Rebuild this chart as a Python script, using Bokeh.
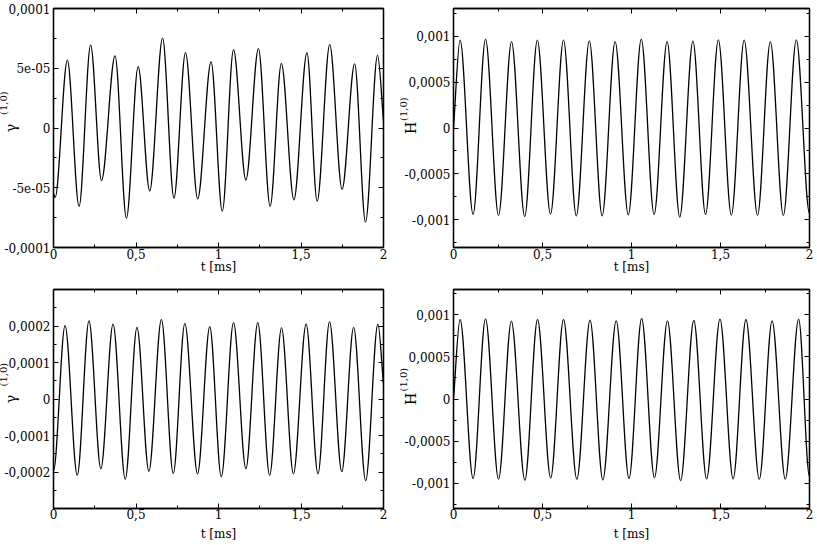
import numpy as np
from bokeh.plotting import figure
from bokeh.models import FixedTicker, CustomJSTickFormatter, LinearAxis, Range1d, Title
from bokeh.layouts import column, row
from bokeh.embed import file_html
from bokeh.resources import INLINE

FONT = "DejaVu Serif"

# ---------------- data ----------------
x_ticks = [0, 0.5, 1, 1.5, 2]
x_tick_labels = ["0", "0,5", "1", "1,5", "2"]
x_minor = [0.25, 0.75, 1.25, 1.75]

# top-left: gamma(1,0) -- turning points (t in ms)
tl_t = [0.0, 0.010, 0.084, 0.155, 0.225, 0.291, 0.373, 0.442, 0.513, 0.583,
        0.661, 0.730, 0.800, 0.874, 0.955, 1.023, 1.091, 1.166, 1.242, 1.313,
        1.381, 1.457, 1.536, 1.598, 1.674, 1.749, 1.825, 1.891, 1.964, 2.0]
tl_v = [-5.5e-5, -5.8e-5, 5.68e-5, -6.56e-5, 6.95e-5, -4.4e-5, 6.03e-5,
        -7.55e-5, 5.13e-5, -5.27e-5, 7.52e-5, -5.87e-5, 6.31e-5, -5.93e-5, 5.54e-5,
        -6.97e-5, 6.56e-5, -4.35e-5, 6.64e-5, -6.56e-5, 5.41e-5, -6.01e-5, 6.29e-5,
        -6.12e-5, 6.97e-5, -5.13e-5, 5.36e-5, -7.88e-5, 6.09e-5, 0.6e-5]
tl_free = [0, 29]
tl_yticks = [-1e-4, -5e-5, 0, 5e-5, 1e-4]
tl_ylabels = ["-0,0001", "-5e-05", "0", "5e-05", "0,0001"]
tl_yminor = [-7.5e-5, -2.5e-5, 2.5e-5, 7.5e-5]

# top-right: H(1,0)
tr_t = [0.0, 0.037, 0.110, 0.180, 0.253, 0.326, 0.400, 0.471, 0.545, 0.618, 0.690,
        0.763, 0.835, 0.908, 0.982, 1.055, 1.127, 1.200, 1.271, 1.345, 1.416,
        1.488, 1.561, 1.633, 1.708, 1.780, 1.853, 1.926, 2.0]
tr_v = [0.0, 0.955e-3, -0.940e-3, 0.966e-3, -0.951e-3, 0.940e-3, -0.962e-3, 0.955e-3,
        -0.937e-3, 0.955e-3, -0.955e-3, 0.948e-3, -0.955e-3, 0.940e-3, -0.944e-3,
        0.966e-3, -0.940e-3, 0.940e-3, -0.969e-3, 0.944e-3, -0.940e-3, 0.958e-3,
        -0.948e-3, 0.955e-3, -0.951e-3, 0.940e-3, -0.951e-3, 0.958e-3, -0.93e-3]
tr_free = [0]
h_yticks = [-1e-3, -5e-4, 0, 5e-4, 1e-3]
h_ylabels = ["-0,001", "-0,0005", "0", "0,0005", "0,001"]
h_yminor = [-1.25e-3, -7.5e-4, -2.5e-4, 2.5e-4, 7.5e-4, 1.25e-3]

# bottom-left: gamma(1,0)
bl_t = [0.0, 0.070, 0.144, 0.215, 0.287, 0.361, 0.435, 0.506, 0.578, 0.654, 0.726,
        0.796, 0.873, 0.947, 1.017, 1.091, 1.166, 1.238, 1.310, 1.382, 1.454,
        1.531, 1.603, 1.673, 1.747, 1.819, 1.892, 1.966, 2.0]
bl_v = [-1.97e-4, 2.01e-4, -2.09e-4, 2.14e-4, -1.91e-4, 2.05e-4, -2.20e-4, 1.96e-4,
        -1.98e-4, 2.18e-4, -2.04e-4, 2.07e-4, -2.05e-4, 1.98e-4, -2.13e-4, 2.09e-4,
        -1.91e-4, 2.09e-4, -2.09e-4, 1.95e-4, -2.05e-4, 2.05e-4, -2.05e-4, 2.12e-4,
        -1.99e-4, 1.96e-4, -2.24e-4, 2.05e-4, 0.4e-4]
bl_free = [28]
bl_yticks = [-2e-4, -1e-4, 0, 1e-4, 2e-4]
bl_ylabels = ["-0,0002", "-0,0001", "0", "0,0001", "0,0002"]
bl_yminor = [-2.5e-4, -1.5e-4, -0.5e-4, 0.5e-4, 1.5e-4, 2.5e-4]

# bottom-right: H(1,0)
br_t = [0.0, 0.037, 0.110, 0.180, 0.253, 0.325, 0.401, 0.472, 0.546, 0.618, 0.693,
        0.767, 0.839, 0.914, 0.986, 1.057, 1.129, 1.202, 1.276, 1.350, 1.422,
        1.497, 1.571, 1.643, 1.718, 1.790, 1.864, 1.939, 2.0]
br_v = [0.0, 0.944e-3, -0.944e-3, 0.952e-3, -0.952e-3, 0.924e-3, -0.964e-3, 0.944e-3,
        -0.936e-3, 0.944e-3, -0.952e-3, 0.936e-3, -0.960e-3, 0.928e-3, -0.944e-3,
        0.956e-3, -0.936e-3, 0.928e-3, -0.968e-3, 0.932e-3, -0.948e-3, 0.948e-3,
        -0.948e-3, 0.944e-3, -0.952e-3, 0.928e-3, -0.952e-3, 0.948e-3, -0.92e-3]
br_free = [0]


def fmt(tick_vals, tick_labs):
    return CustomJSTickFormatter(args=dict(tvals=tick_vals, tlabs=tick_labs), code="""
        for (let i = 0; i < tvals.length; i++) {
            if (Math.abs(tvals[i] - tick) < 1e-12) { return tlabs[i]; }
        }
        return "";
    """)


def segments(t, v, free):
    t = np.asarray(t, dtype=float)
    v = np.asarray(v, dtype=float)
    ta, tb, va, vb = t[:-1], t[1:], v[:-1], v[1:]
    dt = tb - ta
    k = 1.0 / 3.0
    cy0 = va.copy()
    cy1 = vb.copy()
    for i in range(len(ta)):
        if i in free:
            cy0[i] = va[i] + k * (vb[i] - va[i])
        if i + 1 in free:
            cy1[i] = vb[i] - k * (vb[i] - va[i])
    return dict(x0=ta, y0=va, x1=tb, y1=vb, cx0=ta + k * dt, cy0=cy0, cx1=tb - k * dt, cy1=cy1)


def style_axis(ax, tick_vals, tick_labs, minor, show, standoff=1):
    ax.ticker = FixedTicker(ticks=tick_vals, minor_ticks=minor)
    ax.axis_line_color = "black"
    ax.axis_line_width = 1.3
    ax.major_tick_line_color = "black"
    ax.minor_tick_line_color = "black"
    ax.major_tick_in = 5
    ax.major_tick_out = 0
    ax.minor_tick_in = 3
    ax.minor_tick_out = 0
    if show:
        ax.formatter = fmt(tick_vals, tick_labs)
        ax.major_label_text_font = FONT
        ax.major_label_text_font_size = "12px"
        ax.major_label_text_color = "black"
        ax.major_label_standoff = standoff
    else:
        ax.formatter = CustomJSTickFormatter(code="return '';")
        ax.major_label_text_font_size = "0px"
        ax.major_label_standoff = 0


def panel(t, v, free, yr, yticks, ylabels, yminor, sym, sup_gap, w, h, bl, br, bt, bb,
          xstand, xlab_stand):
    p = figure(width=w, height=h, x_range=Range1d(0, 2), y_range=Range1d(-yr, yr),
               output_backend="svg", toolbar_location=None,
               min_border_left=bl, min_border_right=br, min_border_top=bt, min_border_bottom=bb)
    p.xgrid.visible = False
    p.ygrid.visible = False
    p.outline_line_color = "black"
    p.outline_line_width = 1.3
    p.background_fill_color = "white"
    p.border_fill_color = "white"

    xa = p.xaxis[0]
    style_axis(xa, x_ticks, x_tick_labels, x_minor, True, xstand)
    xa.axis_label = "t [ms]"
    xa.axis_label_text_font = FONT
    xa.axis_label_text_font_size = "12px"
    xa.axis_label_text_font_style = "normal"
    xa.axis_label_text_color = "black"
    xa.axis_label_standoff = xlab_stand

    ya = p.yaxis[0]
    style_axis(ya, yticks, ylabels, yminor, True, 3)
    ya.axis_label = sym
    ya.axis_label_text_font = FONT
    ya.axis_label_text_font_size = "14px"
    ya.axis_label_text_font_style = "normal"
    ya.axis_label_text_color = "black"
    ya.axis_label_standoff = -18

    # superscript "(1,0)" of the y title, just above the symbol
    frame_h = h - bt - bb
    p.add_layout(Title(text="(1,0)", align="left", offset=frame_h / 2 + sup_gap,
                       standoff=-16, text_font=FONT, text_font_size="10px",
                       text_font_style="normal", text_color="black"), "left")

    top = LinearAxis()
    style_axis(top, x_ticks, x_tick_labels, x_minor, False)
    p.add_layout(top, "above")
    right = LinearAxis()
    style_axis(right, yticks, ylabels, yminor, False)
    p.add_layout(right, "right")

    p.bezier(line_color="black", line_width=1.3, **segments(t, v, free))
    return p


p1 = panel(tl_t, tl_v, tl_free, 1e-4, tl_yticks, tl_ylabels, tl_yminor, "γ", 12,
           400, 280, 52, 17, 7, 32, 1, -2)
p2 = panel(tr_t, tr_v, tr_free, 1.3e-3, h_yticks, h_ylabels, h_yminor, "H", 7,
           416, 280, 51, 7, 8, 33, 1, -2)
p3 = panel(bl_t, bl_v, bl_free, 3e-4, bl_yticks, bl_ylabels, bl_yminor, "γ", 12,
           400, 264, 52, 17, 9, 35, 0, 5)
p4 = panel(br_t, br_v, br_free, 1.3e-3, h_yticks, h_ylabels, h_yminor, "H", 7,
           416, 264, 51, 7, 8, 36, 0, 5)

layout = column(row(p1, p2), row(p3, p4))
open("out.html", "w").write(file_html(layout, INLINE))
